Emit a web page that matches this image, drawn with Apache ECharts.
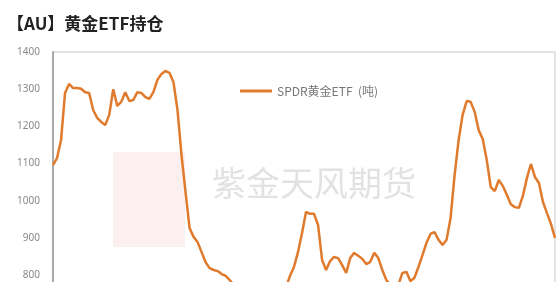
<!DOCTYPE html>
<html>
<head>
<meta charset="utf-8">
<script src="https://cdn.jsdelivr.net/npm/echarts@6/dist/echarts.min.js"></script>
<style>
html,body{margin:0;padding:0;background:#fff;}
#chart{width:557px;height:282px;}
</style>
</head>
<body>
<div id="chart"></div>
<script>
// SPDR黄金ETF持仓（吨）
var holdings = [1096,1115,1163,1290,1314,1303,1303,1301,1292,1290,
                1244,1223,1212,1204,1231,1300,1255,1266,1292,1268,
                1271,1292,1290,1279,1274,1292,1325,1341,1349,1344,
                1319,1244,1123,1024,927,903,889,862,835,819,
                814,811,803,798,787,774,760,747,733,739,
                720,701,685,666,674,653,693,733,766,798,
                822,862,913,970,965,965,935,841,814,838,
                849,846,827,806,846,860,852,844,830,836,
                860,846,814,787,774,760,774,806,809,784,
                793,822,854,887,911,916,895,881,895,954,
                1069,1163,1231,1268,1266,1239,1190,1166,1110,1037,
                1026,1056,1040,1016,991,983,981,1013,1061,1099,
                1064,1048,997,967,938,900];

var yTicks = [600, 700, 800, 900, 1000, 1100, 1200, 1300, 1400];

// 横轴：按序号的日期标签
var dates = [];
for (var i = 0; i < holdings.length; i++) {
    var m = Math.round(i * 1.3);
    dates.push((2010 + Math.floor(m / 12)) + '-' + ('0' + (m % 12 + 1)).slice(-2));
}

var myChart = echarts.init(document.getElementById('chart'));
var option = {
    backgroundColor: '#fff',
    animation: false,
    title: {
        text: '【AU】黄金ETF持仓',
        left: 2,
        top: 10,
        textStyle: {
            fontFamily: 'Noto Sans CJK SC',
            fontSize: 17,
            fontWeight: 'bold',
            color: '#222'
        }
    },
    graphic: [
        {
            type: 'rect',
            left: 113,
            top: 152,
            shape: {width: 72, height: 95},
            style: {fill: 'rgba(230,120,130,0.12)'},
            silent: true
        },
        {
            type: 'text',
            left: 212,
            top: 166,
            style: {
                text: '紫金天风期货',
                fontFamily: 'Noto Sans CJK SC',
                fontSize: 34,
                fill: 'rgba(150,150,150,0.28)'
            },
            silent: true
        }
    ],
    legend: {
        left: 235,
        top: 80,
        icon: 'rect',
        itemWidth: 32,
        itemHeight: 3,
        itemGap: 6,
        textStyle: {
            fontFamily: 'Noto Sans CJK SC',
            fontSize: 12,
            color: '#777'
        },
        data: ['SPDR黄金ETF  (吨)']
    },
    grid: {
        left: 53,
        top: 52,
        width: 502,
        height: 297.6,
        outerBoundsMode: 'none',
        containLabel: false,
        show: true,
        borderColor: '#c8c8c8',
        borderWidth: 1
    },
    xAxis: {
        type: 'category',
        data: dates,
        boundaryGap: false,
        axisLine: {show: false},
        axisTick: {show: false},
        axisLabel: {show: false}
    },
    yAxis: {
        type: 'value',
        min: yTicks[0],
        max: yTicks[yTicks.length - 1],
        interval: 100,
        splitLine: {show: false},
        axisLine: {show: true, lineStyle: {color: '#aaa', width: 2}},
        axisTick: {show: false},
        axisLabel: {
            margin: 13,
            fontSize: 10,
            fontFamily: 'Noto Sans',
            color: '#888',
            formatter: function (v) { return String(v); }
        }
    },
    series: [{
        name: 'SPDR黄金ETF  (吨)',
        type: 'line',
        data: holdings,
        symbol: 'none',
        lineStyle: {color: '#E07A2C', width: 2.5},
        itemStyle: {color: '#E07A2C'}
    }]
};
myChart.setOption(option);
</script>
</body>
</html>
